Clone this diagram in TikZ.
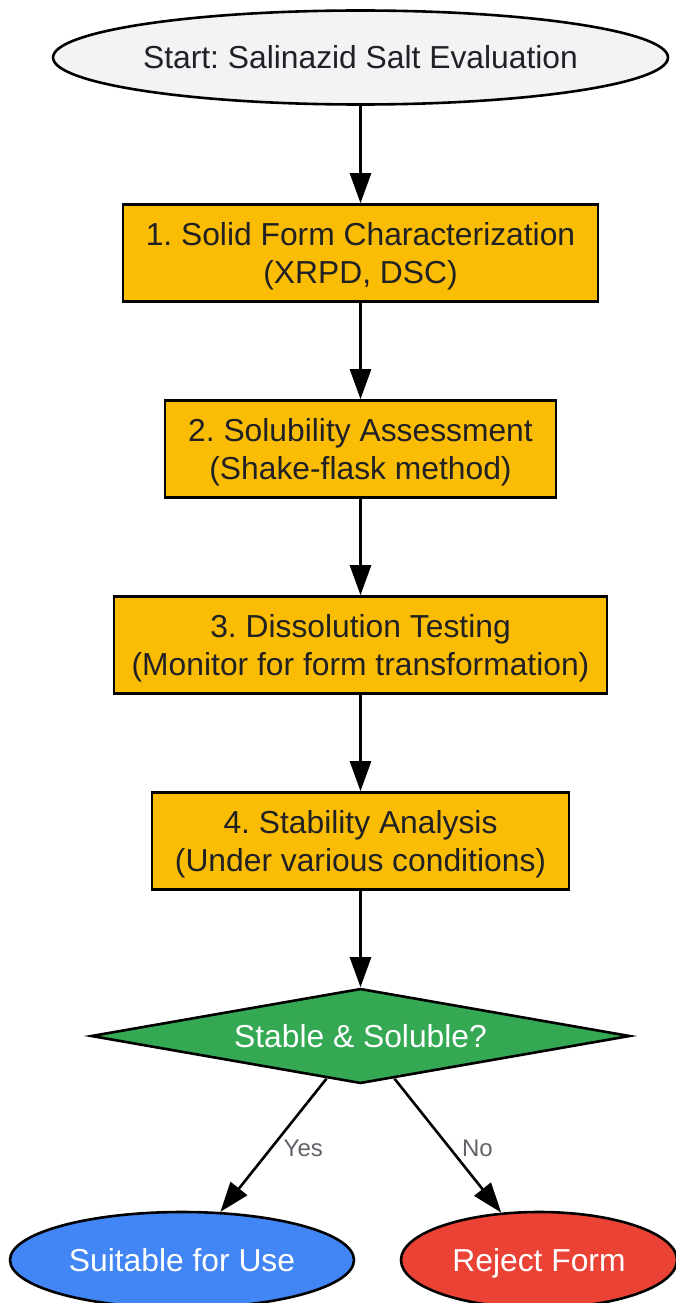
\documentclass[tikz,border=0pt]{standalone}
\usepackage{fontspec}
\setmainfont{Liberation Sans}
\usetikzlibrary{shapes.geometric,arrows.meta}
\definecolor{startfill}{HTML}{F1F3F4}
\definecolor{boxfill}{HTML}{FBBC04}
\definecolor{decfill}{HTML}{34A853}
\definecolor{okfill}{HTML}{4285F4}
\definecolor{rejfill}{HTML}{EA4335}
\definecolor{darktext}{HTML}{202124}
\definecolor{labelgray}{HTML}{5F6368}
\newcommand\mystrut{\rule[-7.2pt]{0pt}{37.2pt}}
\frenchspacing
\begin{document}
\begin{tikzpicture}[x=1pt,y=-1pt,
  base/.style={draw=black,line width=2.6pt,inner sep=0pt,align=center,font=\fontsize{31.8}{38.5}\selectfont\frenchspacing},
  startnode/.style={base,ellipse,fill=startfill,text=darktext,minimum width=613pt,minimum height=94pt},
  stepbox/.style={base,rectangle,fill=boxfill,text=darktext,minimum height=97pt},
  decision/.style={base,diamond,aspect=5.6,fill=decfill,text=white,minimum width=539pt,minimum height=95pt},
  endnode/.style={base,ellipse,text=white,minimum height=96pt},
  conn/.style={draw=black,line width=2.6pt,-{Triangle[length=30pt,width=21pt]}},
  edgelabel/.style={text=labelgray,font=\fontsize{24}{28}\selectfont,inner sep=0pt}
]
\useasboundingbox (0,0) rectangle (675,1303);
\node[startnode] (start) at (360.5,57.5) {\mystrut Start: Salinazid Salt Evaluation};
\node[stepbox,minimum width=475pt] (s1) at (360.5,253) {\mystrut 1. Solid Form Characterization\\\mystrut (XRPD, DSC)};
\node[stepbox,minimum width=391pt] (s2) at (360.5,449) {\mystrut 2. Solubility Assessment\\\mystrut (Shake-flask method)};
\node[stepbox,minimum width=493pt] (s3) at (360.5,645) {\mystrut 3. Dissolution Testing\\\mystrut (Monitor for form transformation)};
\node[stepbox,minimum width=417pt] (s4) at (360.5,841) {\mystrut 4. Stability Analysis\\\mystrut (Under various conditions)};
\node[decision] (dec) at (360.5,1036) {\mystrut Stable \& Soluble?};
\node[endnode,fill=okfill,minimum width=344pt] (ok) at (182,1260) {\mystrut Suitable for Use};
\node[endnode,fill=rejfill,minimum width=276pt] (rej) at (539,1260) {\mystrut Reject Form};
\draw[conn] (start) -- (s1);
\draw[conn] (s1) -- (s2);
\draw[conn] (s2) -- (s3);
\draw[conn] (s3) -- (s4);
\draw[conn] (s4) -- (dec);
\draw[conn] (dec) -- node[edgelabel,anchor=west,xshift=9pt,yshift=-3pt] {Yes} (ok);
\draw[conn] (dec) -- node[edgelabel,anchor=west,xshift=13pt,yshift=-3pt] {No} (rej);
\end{tikzpicture}
\end{document}
